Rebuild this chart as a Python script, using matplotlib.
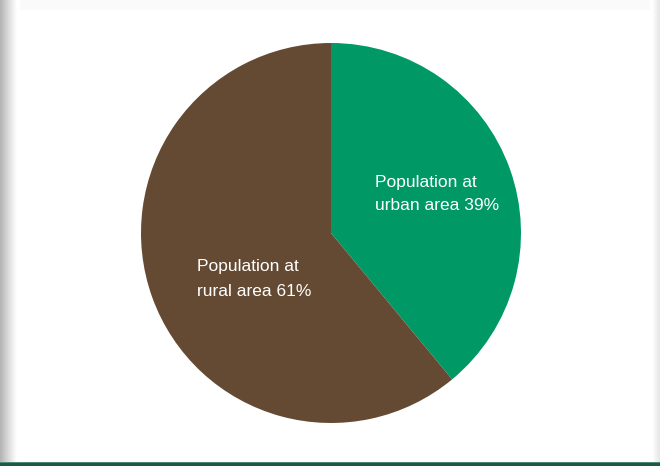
import numpy as np
import matplotlib.pyplot as plt

# population share by area
areas = ['urban area', 'rural area']
shares = [39, 61]
colors = ['#009966', '#654a33']

fig = plt.figure(figsize=(6.6, 4.66), dpi=100)
ax = fig.add_axes([0, 0, 1, 1])

# shaded side edges
left = np.linspace(0.55, 1.0, 64) ** 0.6
ax.imshow(np.tile(left, (2, 1)), cmap='gray', vmin=0, vmax=1,
          extent=[0, 17, 0, 466], aspect='auto', zorder=0)
right = np.linspace(1.0, 0.9, 16)
ax.imshow(np.tile(right, (2, 1)), cmap='gray', vmin=0, vmax=1,
          extent=[652, 660, 0, 466], aspect='auto', zorder=0)
# faint band along the top
ax.fill_between([20, 650], 456, 466, color='#fafafa', lw=0, zorder=0)
# green rule at the bottom
ax.fill_between([0, 660], 0, 3, color='#1b5a45', lw=0, zorder=1)
ax.fill_between([0, 660], 3, 4, color='#4a8a73', lw=0, zorder=1)

wedges, _ = ax.pie(shares, colors=colors, startangle=90, counterclock=False,
                   center=(331, 233), radius=190, frame=True,
                   wedgeprops=dict(linewidth=0))
ax.set_xlim(0, 660)
ax.set_ylim(0, 466)
ax.set_aspect('auto')
ax.axis('off')

fam = ['Liberation Sans', 'DejaVu Sans']
ax.text(375, 272, f'Population at\n{areas[0]} {shares[0]}%', color='white',
        fontsize=12.5, family=fam, ha='left', va='center', linespacing=1.75)
ax.text(197, 187, f'Population at\n{areas[1]} {shares[1]}%', color='white',
        fontsize=12.5, family=fam, ha='left', va='center', linespacing=1.75)

fig.savefig('out.png', dpi=100)
